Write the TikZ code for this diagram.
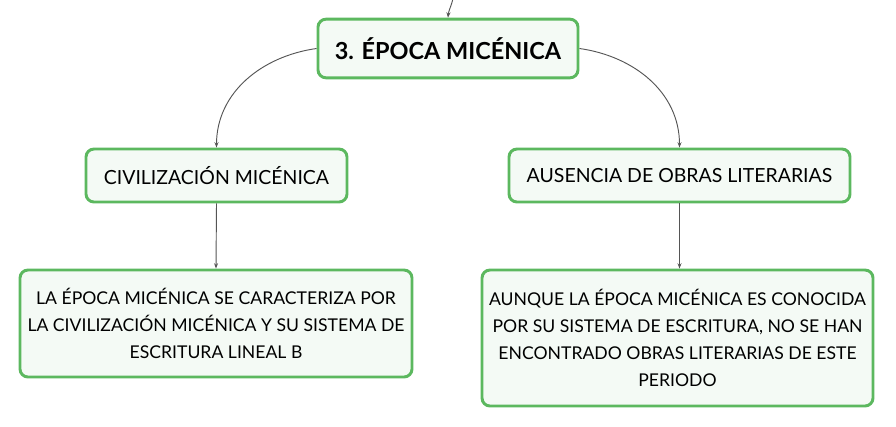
\documentclass[tikz,border=0pt]{standalone}
\usepackage{fontspec}
\setmainfont{Lato}
\usetikzlibrary{arrows.meta}

\definecolor{boxline}{HTML}{5CB85F}
\definecolor{boxfill}{HTML}{F4FAF5}
\definecolor{linkgray}{HTML}{555555}

\tikzset{
  mapbox/.style={draw=boxline, fill=boxfill, line width=2.2pt, rounded corners=6pt,
    align=center, inner sep=0pt},
  link/.style={draw=linkgray, line width=0.7pt, -{Stealth[length=4pt,width=3pt]}}
}

\begin{document}
\begin{tikzpicture}[x=0.75pt, y=-0.75pt]
      \useasboundingbox (0,0) rectangle (896,426);
      \node[mapbox, minimum width=195pt, minimum height=44pt, font=\bfseries\fontsize{17.6}{20}\selectfont]
        (root) at (448,48.5) {3. ÉPOCA MICÉNICA};
      \node[mapbox, minimum width=195.75pt, minimum height=39.75pt, font=\fontsize{14.6}{17}\selectfont]
        (civ) at (216.5,175.5) {CIVILIZACIÓN MICÉNICA};
      \node[mapbox, minimum width=255.75pt, minimum height=39.75pt, font=\fontsize{14.6}{17}\selectfont]
        (aus) at (679.5,175.5) {AUSENCIA DE OBRAS LITERARIAS};
      \node[mapbox, minimum width=294pt, minimum height=80.25pt, font=\fontsize{13.2}{20.3}\selectfont]
        (civtext) at (216,323.5) {LA ÉPOCA MICÉNICA SE CARACTERIZA POR\\LA CIVILIZACIÓN MICÉNICA Y SU SISTEMA DE\\ESCRITURA LINEAL B};
      \node[mapbox, minimum width=293.25pt, minimum height=102pt, font=\fontsize{13.2}{20.3}\selectfont]
        (austext) at (677.5,338) {AUNQUE LA ÉPOCA MICÉNICA ES CONOCIDA\\POR SU SISTEMA DE ESCRITURA, NO SE HAN\\ENCONTRADO OBRAS LITERARIAS DE ESTE\\PERIODO};
      \coordinate (up) at (453,-2);
      % connectors
      \draw[link] (up) to[out=260, in=85] (root.north);
      \draw[link] (root.west) to[out=188, in=90] (civ.north);
      \draw[link] (root.east) to[out=-8, in=90] (aus.north);
      \draw[link] (civ.south) -- (civtext.north);
      \draw[link] (aus.south) -- (austext.north -| aus.south);
    \end{tikzpicture}
\end{document}
